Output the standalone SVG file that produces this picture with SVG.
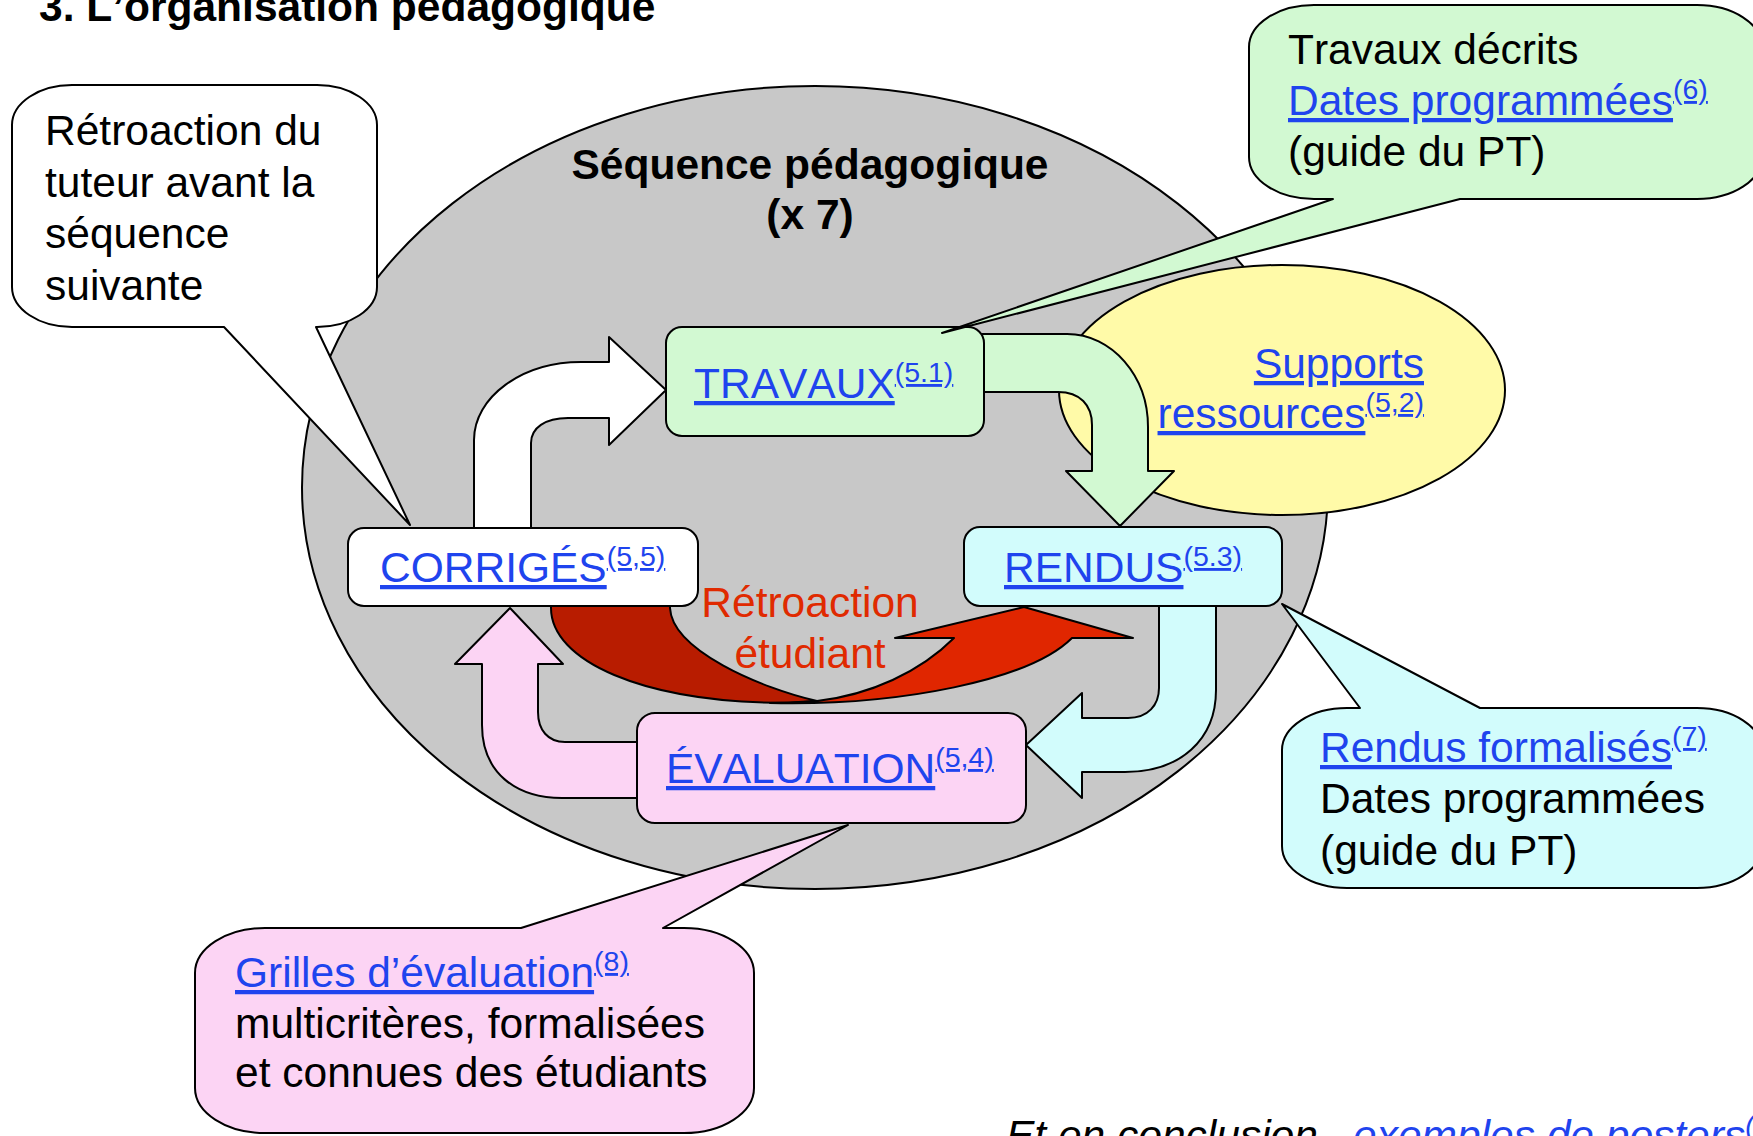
<svg xmlns="http://www.w3.org/2000/svg" width="1753" height="1136" viewBox="0 0 1753 1136">
<style>
.t{font-family:"Liberation Sans",Arial,sans-serif;font-size:42.5px;fill:#000;font-kerning:none}
.b{font-weight:bold}
.i{font-style:italic}
.lk{fill:#1f44ee;text-decoration:underline}
.sup{font-size:28.5px}
.red{fill:#e02a00}
.sh{stroke:#000;stroke-width:2;stroke-linejoin:round}
</style>
<rect x="0" y="0" width="1753" height="1136" fill="#fff"/>
<text class="t b" x="39" y="21">3. L’organisation pédagogique</text>

<g id="sequence">
<ellipse class="sh" cx="815" cy="487.5" rx="513" ry="401.5" fill="#c8c8c8"/>
<text class="t b" x="810" y="179" text-anchor="middle">Séquence pédagogique</text>
<text class="t b" x="810" y="229" text-anchor="middle">(x 7)</text>
</g>

<g id="supports">
<ellipse class="sh" cx="1282" cy="390" rx="223" ry="125" fill="#fffaa8"/>
<text class="t lk" x="1424" y="378" text-anchor="end">Supports</text>
<text class="t lk" x="1424" y="428" text-anchor="end">ressources<tspan class="sup" dy="-16">(5,2)</tspan></text>
</g>

<g id="connectors">
<path class="sh" fill="#ffffff" d="M 474 535 L 474 440 C 474 397, 522 362, 581 362 L 609 362 L 609 337 L 666 390 L 609 445 L 609 418 L 568 418 C 545 418, 531 428, 531 443 L 531 535 Z"/>
<path class="sh" fill="#d2f9d2" d="M 975 334 L 1067 334 C 1112 334, 1148 376, 1148 427 L 1148 471 L 1174 471 L 1120 526 L 1066 471 L 1092 471 L 1092 425 C 1092 405, 1080 392, 1058 392 L 975 392 Z"/>
<path class="sh" fill="#d2fcfc" d="M 1159 600 L 1216 600 L 1216 690 C 1216 740, 1180 772, 1125 772 L 1082 772 L 1082 798 L 1026 745 L 1082 693 L 1082 718 L 1128 718 C 1148 718, 1159 705, 1159 688 Z"/>
<path class="sh" fill="#fcd4f4" d="M 645 742 L 565 742 C 548 742, 538 730, 538 712 L 538 664 L 563 664 L 510 608 L 455 664 L 482 664 L 482 725 C 482 772, 515 798, 562 798 L 645 798 Z"/>
<path class="sh" fill="#b81c00" d="M 551 600 L 551 608 C 551 660, 640 703, 790 703 L 817 701 C 760 688, 672 650, 670 608 L 670 600 Z"/>
<path class="sh" fill="#e02600" d="M 770 703 C 900 706, 1030 680, 1072 638 L 1133 638 L 1024 607 L 895 638 L 954 638 C 920 672, 870 695, 817 701 C 800 702, 785 703, 770 703 Z"/>
</g>

<g id="travaux">
<rect class="sh" x="666" y="327" width="318" height="109" rx="16" fill="#d2f9d2"/>
<text class="t lk" x="694" y="398">TRAVAUX<tspan class="sup" dy="-16">(5.1)</tspan></text>
</g>
<g id="rendus">
<rect class="sh" x="964" y="527" width="318" height="79" rx="16" fill="#d2fcfc"/>
<text class="t lk" x="1004" y="582">RENDUS<tspan class="sup" dy="-16">(5.3)</tspan></text>
</g>
<g id="corriges">
<rect class="sh" x="348" y="528" width="350" height="78" rx="16" fill="#ffffff"/>
<text class="t lk" x="380" y="582">CORRIGÉS<tspan class="sup" dy="-16">(5,5)</tspan></text>
</g>
<g id="evaluation">
<rect class="sh" x="637" y="713" width="389" height="110" rx="18" fill="#fcd4f4"/>
<text class="t lk" x="666" y="783">ÉVALUATION<tspan class="sup" dy="-16">(5,4)</tspan></text>
</g>
<g id="retroaction">
<text class="t red" x="810" y="617" text-anchor="middle">Rétroaction</text>
<text class="t red" x="810" y="668" text-anchor="middle">étudiant</text>
</g>

<g id="bulle-tuteur">
<path class="sh" fill="#ffffff" d="M 72 85 L 317 85 A 60 40 0 0 1 377 125 L 377 287 A 60 40 0 0 1 317 327 L 316 327 L 410 525 L 224 327 L 72 327 A 60 40 0 0 1 12 287 L 12 125 A 60 40 0 0 1 72 85 Z"/>
<text class="t" x="45" y="145">Rétroaction du</text>
<text class="t" x="45" y="196.5">tuteur avant la</text>
<text class="t" x="45" y="248">séquence</text>
<text class="t" x="45" y="299.5">suivante</text>
</g>

<g id="bulle-travaux">
<path class="sh" fill="#d2f9d2" d="M 1314 5 L 1697 5 A 65 42 0 0 1 1762 47 L 1762 157 A 65 42 0 0 1 1697 199 L 1460 199 L 942 333 L 1333 199 L 1314 199 A 65 42 0 0 1 1249 157 L 1249 47 A 65 42 0 0 1 1314 5 Z"/>
<text class="t" x="1288" y="64">Travaux décrits</text>
<text class="t lk" x="1288" y="115">Dates programmées<tspan class="sup" dy="-16">(6)</tspan></text>
<text class="t" x="1288" y="166">(guide du PT)</text>
</g>

<g id="bulle-rendus">
<path class="sh" fill="#d2fcfc" d="M 1347 708 L 1360 708 L 1282 604 L 1480 708 L 1697 708 A 65 42 0 0 1 1762 750 L 1762 846 A 65 42 0 0 1 1697 888 L 1347 888 A 65 42 0 0 1 1282 846 L 1282 750 A 65 42 0 0 1 1347 708 Z"/>
<text class="t lk" x="1320" y="762">Rendus formalisés<tspan class="sup" dy="-16">(7)</tspan></text>
<text class="t" x="1320" y="813">Dates programmées</text>
<text class="t" x="1320" y="865">(guide du PT)</text>
</g>

<g id="bulle-grilles">
<path class="sh" fill="#fcd4f4" d="M 265 928 L 521 928 L 848 825 L 663 928 L 684 928 A 70 45 0 0 1 754 973 L 754 1088 A 70 45 0 0 1 684 1133 L 265 1133 A 70 45 0 0 1 195 1088 L 195 973 A 70 45 0 0 1 265 928 Z"/>
<text class="t lk" x="235" y="987">Grilles d’évaluation<tspan class="sup" dy="-16">(8)</tspan></text>
<text class="t" x="235" y="1038">multicritères, formalisées</text>
<text class="t" x="235" y="1087">et connues des étudiants</text>
</g>

<g id="conclusion">
<text class="t i" x="1006" y="1150">Et en conclusion - </text>
<text class="t i lk" x="1353" y="1150">exemples de posters<tspan class="sup" dy="-16">(</tspan></text>
</g>
</svg>
